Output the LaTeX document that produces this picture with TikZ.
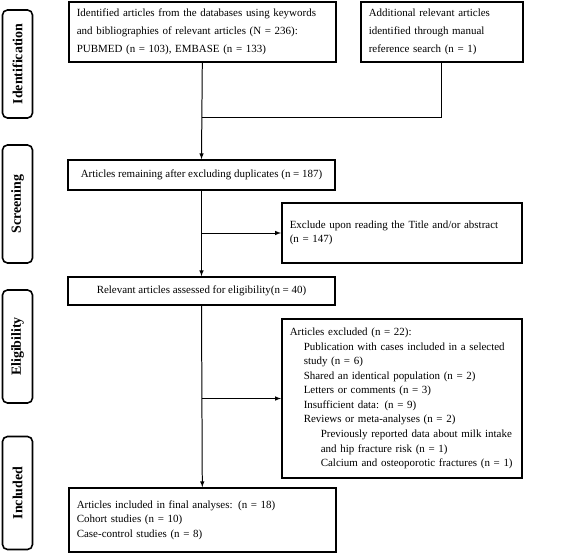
\documentclass[tikz,border=0pt]{standalone}
\usepackage{fontspec}
\setmainfont{Liberation Serif}
\usepackage{tikz}
\usetikzlibrary{positioning,arrows}

\begin{document}
\begin{tikzpicture}[x=1bp, y=-1bp,
  box/.style={draw, line width=1.6pt, inner xsep=8bp, inner ysep=0pt, font=\fontsize{11}{14.6}\selectfont},
  wbox/.style={box, font=\fontsize{11}{18}\selectfont},
  lbox/.style={align=left, anchor=west, text width=#1},
  cbox/.style={box, align=center},
  stage/.style={draw, line width=1.6pt, rounded corners=5bp, minimum height=30bp, rotate=90, font=\bfseries\fontsize{14}{16}\selectfont},
  arr/.style={-latex, line width=1pt},
  ln/.style={line width=1pt}]
  \useasboundingbox (0,0) rectangle (567,553);

  % stage labels
  \node[stage, minimum width=108bp] (ident) at (17.5,64) {Identification};
  \node[stage, minimum width=118bp] (screen) at (17.5,204) {Screening};
  \node[stage, minimum width=113bp] (elig) at (17.5,346.5) {Eligibility};
  \node[stage, minimum width=113bp] (incl) at (17.5,493) {Included};

  % boxes
  \node[wbox, lbox=251bp, minimum height=60bp] (found) at (68,32) {Identified articles from the databases using keywords\\and bibliographies of relevant articles (N = 236):\\PUBMED (n = 103), EMBASE (n = 133)};
  \node[wbox, lbox=146bp, minimum height=60bp] (manual) at (360,32) {Additional relevant articles\\identified through manual\\reference search (n = 1)};
  \node[cbox, minimum width=267bp, minimum height=30bp] (dedup) at (201.5,175) {Articles remaining after excluding duplicates (n = 187)};
  \node[box, lbox=224bp, minimum height=60bp] (title) at (281,233) {Exclude upon reading the Title and/or abstract\\(n = 147)};
  \node[cbox, minimum width=267bp, minimum height=28bp] (assess) at (201.5,291) {Relevant articles assessed for eligibility(n = 40)};
  \node[box, lbox=224bp, minimum height=159bp] (excl) at (281,398.5) {Articles excluded (n = 22):\\
    \hspace*{14bp}Publication with cases included in a selected\\
    \hspace*{14bp}study (n = 6)\\
    \hspace*{14bp}Shared an identical population (n = 2)\\
    \hspace*{14bp}Letters or comments (n = 3)\\
    \hspace*{14bp}Insufficient data: (n = 9)\\
    \hspace*{14bp}Reviews or meta-analyses (n = 2)\\
    \hspace*{31bp}Previously reported data about milk intake\\
    \hspace*{31bp}and hip fracture risk (n = 1)\\
    \hspace*{31bp}Calcium and osteoporotic fractures (n = 1)};
  \node[box, lbox=251bp, minimum height=64bp] (final) at (68,520) {Articles included in final analyses: (n = 18)\\Cohort studies (n = 10)\\Case-control studies (n = 8)};

  % connectors
  \coordinate (join) at (found.south |- 0,117);
  \coordinate (split1) at (found.south |- title.west);
  \coordinate (split2) at (found.south |- excl.west);
  \draw[ln] (manual.south) |- (join);
  \draw[arr] (found.south) -- (dedup.north);
  \draw[arr] (dedup.south) -- (assess.north);
  \draw[arr] (split1) -- (title.west);
  \draw[arr] (assess.south) -- (final.north);
  \draw[arr] (split2) -- (excl.west);
\end{tikzpicture}
\end{document}
